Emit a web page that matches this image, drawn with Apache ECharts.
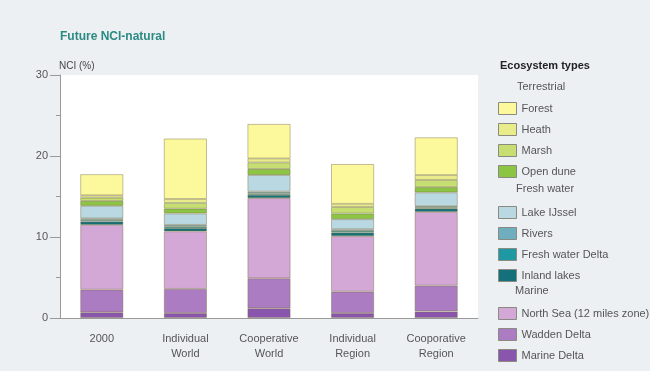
<!DOCTYPE html>
<html>
<head>
<meta charset="utf-8">
<script src="https://cdn.jsdelivr.net/npm/echarts@6/dist/echarts.min.js"></script>
<style>
  html, body { margin: 0; padding: 0; background: #edf0f3; }
  #chart { width: 650px; height: 371px; }
</style>
</head>
<body>
<div id="chart"></div>
<script>
// scenarios on the x axis
const scenarios = ['2000', 'Individual\nWorld', 'Cooperative\nWorld', 'Individual\nRegion', 'Cooporative\nRegion'];
const yTicks = [0, 10, 20, 30];

// NCI (%) per ecosystem type, one value per scenario
const marineDelta     = [0.7, 0.6, 1.2, 0.6, 0.8];
const waddenDelta     = [2.8, 3.0, 3.7, 2.65, 3.2];
const northSea        = [8.0, 7.1, 9.9, 6.85, 9.1];
const inlandLakes     = [0.4, 0.4, 0.4, 0.45, 0.4];
const freshWaterDelta = [0.2, 0.2, 0.2, 0.2, 0.15];
const rivers          = [0.2, 0.2, 0.2, 0.2, 0.15];
const lakeIJssel      = [1.55, 1.4, 2.05, 1.25, 1.7];
const openDune        = [0.6, 0.6, 0.75, 0.7, 0.65];
const marsh           = [0.4, 0.7, 0.8, 0.8, 0.9];
const heath           = [0.3, 0.5, 0.5, 0.4, 0.6];
const forest          = [2.6, 7.45, 4.25, 4.9, 4.65];

// legend groups
const terrestrial = ['Forest', 'Heath', 'Marsh', 'Open dune'];
const freshWater  = ['Lake IJssel', 'Rivers', 'Fresh water Delta', 'Inland lakes'];
const marine      = ['North Sea (12 miles zone)', 'Wadden Delta', 'Marine Delta'];

// stacked bottom -> top
const stackOrder = [
  ['Marine Delta', marineDelta, '#8a55ad'],
  ['Wadden Delta', waddenDelta, '#ab7cc2'],
  ['North Sea (12 miles zone)', northSea, '#d3a7d6'],
  ['Inland lakes', inlandLakes, '#14707a'],
  ['Fresh water Delta', freshWaterDelta, '#1e98a2'],
  ['Rivers', rivers, '#6faebf'],
  ['Lake IJssel', lakeIJssel, '#b9d8e1'],
  ['Open dune', openDune, '#8cc443'],
  ['Marsh', marsh, '#c7df72'],
  ['Heath', heath, '#e9ec8b'],
  ['Forest', forest, '#fcf99d']
];

const font = 'Liberation Sans, Arial, sans-serif';
const chart = echarts.init(document.getElementById('chart'));

const legendBase = {
  orient: 'vertical',
  left: 498,
  padding: 0,
  itemWidth: 18,
  itemHeight: 12,
  itemGap: 8,
  icon: 'rect',
  itemStyle: { borderColor: '#8a8a80', borderWidth: 1 },
  textStyle: { color: '#555', fontSize: 11, fontFamily: font }
};

const series = stackOrder.map(([name, values, color]) => ({
  name,
  type: 'bar',
  stack: 'nci',
  barWidth: 43,
  data: values,
  itemStyle: { color, borderColor: 'rgba(120,110,70,0.55)', borderWidth: 0.8 },
  emphasis: { disabled: true }
}));

const option = {
  backgroundColor: '#edf0f3',
  animation: false,
  title: {
    text: 'Future NCI-natural',
    left: 55,
    top: 26,
    textStyle: { color: '#2a8a82', fontSize: 12, fontWeight: 'bold', fontFamily: font }
  },
  grid: {
    left: 60, top: 75, width: 418, height: 243,
    show: true, backgroundColor: '#ffffff', borderWidth: 0
  },
  legend: [
    Object.assign({}, legendBase, { top: 102, data: terrestrial }),
    Object.assign({}, legendBase, { top: 206, data: freshWater }),
    Object.assign({}, legendBase, { top: 307, data: marine })
  ],
  graphic: [
    { type: 'text', left: 500, top: 60, style: { text: 'Ecosystem types', fill: '#222', font: 'bold 11px ' + font } },
    { type: 'text', left: 517, top: 81, style: { text: 'Terrestrial', fill: '#555', font: '11px ' + font } },
    { type: 'text', left: 516, top: 183, style: { text: 'Fresh water', fill: '#555', font: '11px ' + font } },
    { type: 'text', left: 515, top: 285, style: { text: 'Marine', fill: '#555', font: '11px ' + font } }
  ],
  xAxis: {
    type: 'category',
    data: scenarios,
    axisLine: { lineStyle: { color: '#999' } },
    axisTick: { show: false },
    axisLabel: { color: '#555', fontSize: 11, fontFamily: font, margin: 13, lineHeight: 15, interval: 0 }
  },
  yAxis: {
    type: 'value',
    min: yTicks[0],
    max: yTicks[yTicks.length - 1],
    interval: 10,
    name: 'NCI (%)',
    nameLocation: 'end',
    nameGap: 4,
    nameTextStyle: { color: '#444', fontSize: 10, fontFamily: font, align: 'left', padding: [0, 0, 0, -1] },
    axisLine: { show: true, lineStyle: { color: '#999' } },
    axisTick: { show: true, length: 10, lineStyle: { color: '#999' } },
    minorTick: { show: true, splitNumber: 2, length: 4, lineStyle: { color: '#999' } },
    splitLine: { show: false },
    axisLabel: { color: '#555', fontSize: 11, fontFamily: font, margin: 12 }
  },
  series
};

chart.setOption(option);
</script>
</body>
</html>
